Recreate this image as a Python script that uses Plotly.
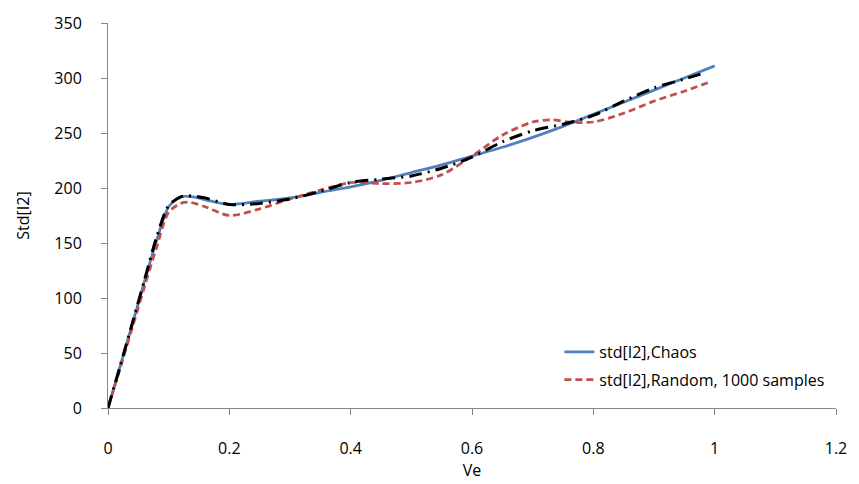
import plotly.graph_objects as go

# Chaos (blue solid)
chaos_x = [0, 0.02, 0.04, 0.06, 0.08, 0.1, 0.12, 0.14, 0.17, 0.2, 0.25, 0.3, 0.35, 0.4, 0.45,
           0.5, 0.55, 0.6, 0.65, 0.7, 0.75, 0.8, 0.85, 0.9, 0.95, 1.0]
chaos_y = [0, 38, 76, 115, 152, 183, 192, 192, 188, 185, 188, 191, 196, 201, 207,
           214, 221, 229, 237, 246, 256, 267, 278, 289, 300, 311]

# Random, 1000 samples (red dashed)
rand_x = [0, 0.02, 0.04, 0.06, 0.08, 0.1, 0.12, 0.135, 0.16, 0.2, 0.25, 0.3, 0.35, 0.4, 0.45,
          0.5, 0.55, 0.6, 0.65, 0.7, 0.73, 0.76, 0.8, 0.85, 0.9, 0.95, 0.99]
rand_y = [0, 36, 73, 110, 146, 178, 186, 187, 183, 175, 181, 190, 198, 205, 204,
          205, 212, 229, 248, 260, 262, 260, 260, 268, 279, 288, 296]

# third series (black dash-dot, not in legend)
other_x = [0, 0.02, 0.04, 0.06, 0.08, 0.1, 0.12, 0.13, 0.16, 0.2, 0.25, 0.3, 0.35, 0.4, 0.45,
           0.5, 0.55, 0.6, 0.65, 0.7, 0.75, 0.8, 0.85, 0.9, 0.95, 0.985]
other_y = [0, 38, 77, 116, 155, 184, 192, 193, 191, 185, 186, 190, 197, 205, 208,
           211, 218, 228, 242, 252, 258, 266, 279, 291, 299, 305]

x_ticks = [0, 0.2, 0.4, 0.6, 0.8, 1, 1.2]
x_tick_text = ["0", "0.2", "0.4", "0.6", "0.8", "1", "1.2"]
y_ticks = [0, 50, 100, 150, 200, 250, 300, 350]

fig = go.Figure()
fig.add_trace(go.Scatter(x=chaos_x, y=chaos_y, mode="lines", name="std[I2],Chaos",
                         line=dict(color="#4F81BD", width=2.75, shape="spline", smoothing=0.8),
                         legendgroup="a"))
fig.add_trace(go.Scatter(x=rand_x, y=rand_y, mode="lines", name="std[I2],Random, 1000 samples",
                         line=dict(color="#C0504D", width=2.75, dash="7px,4px", shape="spline", smoothing=0.8),
                         legendgroup="b"))
fig.add_trace(go.Scatter(x=other_x, y=other_y, mode="lines", name="std[I2]",
                         line=dict(color="#000000", width=3, dash="13px,6px,2px,6px", shape="spline", smoothing=0.8),
                         showlegend=False))

axis_common = dict(showgrid=False, zeroline=False, showline=True, linecolor="#868686", linewidth=1,
                   ticks="outside", ticklen=6, tickcolor="#868686",
                   tickfont=dict(size=16, color="#000000"))

fig.update_layout(
    width=859, height=484,
    margin=dict(l=108, r=17, t=18, b=74),
    paper_bgcolor="white", plot_bgcolor="white",
    font=dict(family="Open Sans", size=16, color="#000000"),
    xaxis=dict(range=[0, 1.2], tickvals=x_ticks, ticktext=x_tick_text, ticklabelstandoff=20,
               title=dict(text="Ve", font=dict(size=16), standoff=2), **axis_common),
    yaxis=dict(range=[0, 350], tickvals=y_ticks, ticklabelstandoff=16,
               title=dict(text="Std[I2]", font=dict(size=16), standoff=20), **axis_common),
    legend=dict(x=0.62, y=0.19, xanchor="left", yanchor="top", bgcolor="rgba(0,0,0,0)",
                font=dict(size=16), tracegroupgap=4),
    showlegend=True,
)

fig.write_html("out.html")
